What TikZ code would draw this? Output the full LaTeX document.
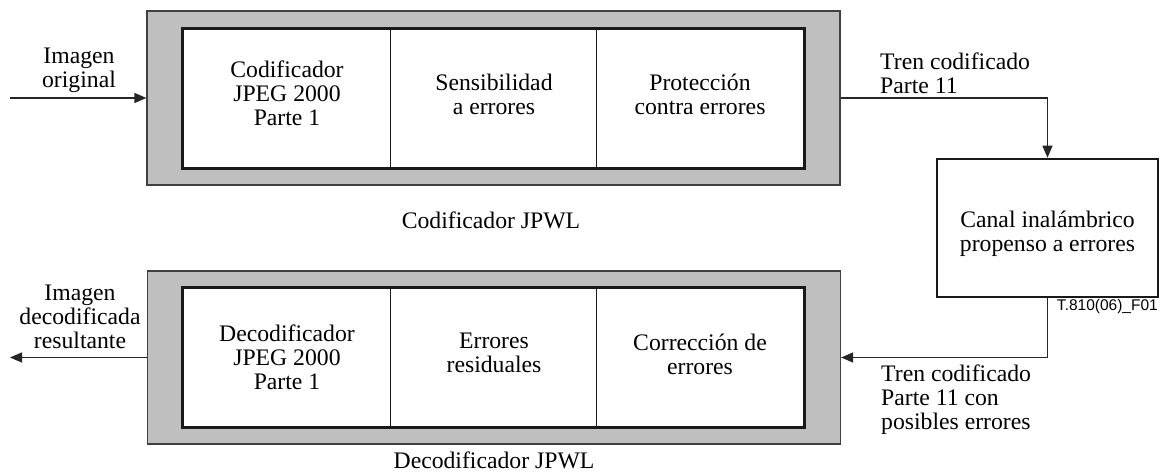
\documentclass[tikz,border=0pt]{standalone}
\usepackage{fontspec}
\setmainfont{Liberation Serif}
\newfontfamily\labelsans{Liberation Sans}
\usetikzlibrary{arrows.meta}
\begin{document}
\begin{tikzpicture}[x=1pt,y=-1pt,
  outerbox/.style={draw=black!75,line width=1.2pt,fill=black!25,minimum width=693pt,minimum height=174pt,inner sep=0pt},
  cell/.style={draw=black!90,line width=1.5pt,fill=white,minimum width=207pt,minimum height=139pt,inner sep=0pt},
  frame/.style={draw=black!90,line width=2.6pt},
  txt/.style={font=\fontsize{23.7}{24}\selectfont,align=center,inner sep=0pt},
  ltxt/.style={font=\fontsize{23.7}{24}\selectfont,align=left,inner sep=0pt,anchor=west},
  arr/.style={draw=black!85,line width=1.3pt,-{Triangle[length=12pt,width=10pt]}}]
\useasboundingbox (0,0) rectangle (1163,473);
% encoder
\node[outerbox] (enc) at (493.5,98) {};
\node[cell] (b1) at (287,98.5) {};
\node[cell] (b2) at (494,98.5) {};
\node[cell] (b3) at (700,98.5) {};
\draw[frame] (b1.north west) rectangle (b3.south east);
\node[txt] (t1) at (287,93) {Codificador\\JPEG 2000\\Parte 1};
\node[txt] (t2) at (494,94) {Sensibilidad\\a errores};
\node[txt] (t3) at (700,94) {Protección\\contra errores};
\node[txt] (encl) at (491,220) {Codificador JPWL};
% decoder
\node[outerbox,minimum height=173pt] (dec) at (494,357.5) {};
\node[cell] (d1) at (287,357.5) {};
\node[cell] (d2) at (494,357.5) {};
\node[cell] (d3) at (700,357.5) {};
\draw[frame] (d1.north west) rectangle (d3.south east);
\node[txt] (s1) at (287,357) {Decodificador\\JPEG 2000\\Parte 1};
\node[txt] (s2) at (494,353) {Errores\\residuales};
\node[txt] (s3) at (700,354) {Corrección de\\errores};
\node[txt] (decl) at (494,460) {Decodificador JPWL};
% channel
\node[draw=black!90,line width=2.6pt,fill=white,minimum width=221pt,minimum height=138pt,inner sep=0pt] (chan) at (1047.5,228) {};
\node[txt] (ct) at (1047.5,234) {Canal inalámbrico\\propenso a errores};
\node[font=\labelsans\fontsize{15.5}{17}\selectfont,anchor=east,inner sep=0pt] (fig) at (1158,306) {T.810(06)\_F01};
% labels
\node[txt] (inl) at (79,70) {Imagen\\original};
\node[txt] (outl) at (80,317) {Imagen\\decodificada\\resultante};
\node[ltxt] (tr1) at (880,73) {Tren codificado\\Parte 11};
\node[ltxt] (tr2) at (881,400) {Tren codificado\\Parte 11 con\\posibles errores};
% connectors
\coordinate (in) at (10,98);
\coordinate (out) at (10,357.5);
\draw[arr] (in) -- (enc.west);
\draw[arr] (enc.east) -| (chan.north);
\draw[arr] (chan.south) |- (dec.east);
\draw[arr] (dec.west) -- (out);
\end{tikzpicture}
\end{document}
